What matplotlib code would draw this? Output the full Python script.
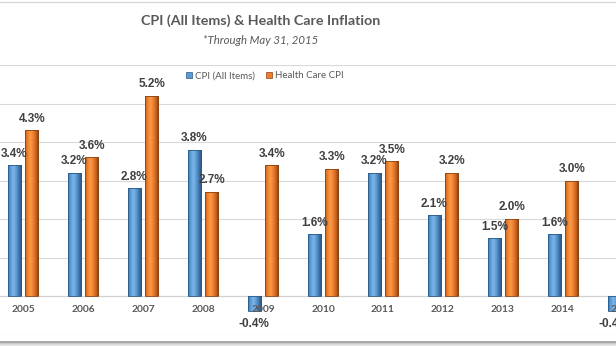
import matplotlib
matplotlib.use('Agg')
import matplotlib.pyplot as plt
import numpy as np
from matplotlib.colors import LinearSegmentedColormap
from matplotlib.lines import Line2D

# ---- data ----
years = ['2005', '2006', '2007', '2008', '2009', '2010', '2011', '2012', '2013', '2014', '2015']
cpi = [3.4, 3.2, 2.8, 3.8, -0.4, 1.6, 3.2, 2.1, 1.5, 1.6, -0.4]
health = [4.3, 3.6, 5.2, 2.7, 3.4, 3.3, 3.5, 3.2, 2.0, 3.0, 2.6]
series_names = ['CPI (All Items)', 'Health Care CPI']
title = 'CPI (All Items) & Health Care Inflation'
subtitle = '*Through May 31, 2015'

W, H = 616, 346
fig = plt.figure(figsize=(W / 100, H / 100), dpi=100)
fig.patch.set_facecolor('white')

# axes extends beyond the visible (cropped) figure
ax_l, ax_r = -61.6, 677.6
y_top, y_bot = 65.0, 334.5
ax = fig.add_axes([ax_l / W, (H - y_bot) / H, (ax_r - ax_l) / W, (y_bot - y_top) / H])
ax.set_facecolor('none')

x = np.arange(len(years))
bw = 0.22
off = 0.146

blue_cmap = LinearSegmentedColormap.from_list('b', ['#3B78B4', '#5E9FD8', '#7DB6E8', '#5C9AD2', '#3E74A8', '#24507C'])
orange_cmap = LinearSegmentedColormap.from_list('o', ['#C8621C', '#F0822F', '#FA9A48', '#EE7F2E', '#C66220', '#7E3C10'])
edge_b = '#2A5A88'
edge_o = '#8A4412'
grad = np.linspace(0, 1, 64).reshape(1, -1)

def draw_bars(xs, vals, cmap, edge):
    bars = ax.bar(xs, vals, width=bw, color='none', edgecolor=edge, linewidth=0.6, zorder=3)
    for rect in bars:
        x0 = rect.get_x(); w = rect.get_width()
        y0 = rect.get_y(); h = rect.get_height()
        ylo, yhi = min(y0, y0 + h), max(y0, y0 + h)
        im = ax.imshow(grad, extent=[x0, x0 + w, ylo, yhi], aspect='auto', cmap=cmap,
                       interpolation='bilinear', zorder=2.5, origin='lower')
        im.set_clip_path(rect)
    return bars

draw_bars(x - off, cpi, blue_cmap, edge_b)
draw_bars(x + off, health, orange_cmap, edge_o)

ax.set_xlim((ax_l - 23) / 60, (ax_r - 23) / 60)
ax.set_ylim(-1, 6)
ax.set_yticks(np.arange(-1, 7, 1))
ax.yaxis.grid(True, color='#D9D9D9', linewidth=0.8, zorder=0)
ax.set_axisbelow(True)
ax.set_xticks([])
ax.tick_params(axis='y', length=0, labelleft=False)
for s in ax.spines.values():
    s.set_visible(False)
ax.axhline(0, color='#D0D0D0', linewidth=0.8, zorder=1)

lab_font = dict(family=['Liberation Sans Narrow', 'Liberation Sans', 'DejaVu Sans'],
                fontweight='bold', fontsize=8.5, color='#404040')

def labels(xs, vals):
    for xi, v in zip(xs, vals):
        if v >= 0:
            ax.annotate(f'{v:.1f}%', (xi, v), xytext=(0, 4), textcoords='offset points',
                        ha='center', va='bottom', annotation_clip=False, **lab_font)
        else:
            ax.annotate(f'{v:.1f}%', (xi, v), xytext=(0, -5), textcoords='offset points',
                        ha='center', va='top', annotation_clip=False, **lab_font)

labels(x - off, cpi)
labels(x + off, health)

# category labels next to the zero line
for xi, yr in zip(x, years):
    ax.annotate(yr, (xi, 0), xytext=(0, -6.5), textcoords='offset points', ha='center', va='top',
                family=['Lato', 'DejaVu Sans'], fontweight='bold', fontsize=7.4, color='#595959',
                annotation_clip=False, zorder=4)

# title / subtitle
fig.text(261 / W, 1 - 21 / H, title, ha='center', va='center', family=['Lato', 'DejaVu Sans'],
         fontweight='bold', fontsize=10.3, color='#595959')
fig.text(261 / W, 1 - 41 / H, subtitle, ha='center', va='center', family=['Lato', 'DejaVu Sans'],
         fontstyle='italic', fontsize=8.2, color='#595959')

# legend
handles = [Line2D([], [], marker='s', linestyle='none', markersize=4.2, markerfacecolor='#5B9BD5',
                  markeredgecolor=edge_b, markeredgewidth=0.5),
           Line2D([], [], marker='s', linestyle='none', markersize=4.2, markerfacecolor='#ED7D31',
                  markeredgecolor=edge_o, markeredgewidth=0.5)]
leg = fig.legend(handles, series_names, loc='center', bbox_to_anchor=(265 / W, 1 - 76 / H),
                 ncol=2, frameon=False, prop=dict(family=['Lato', 'DejaVu Sans'], size=7.0),
                 handlelength=0.6, handletextpad=0.35, columnspacing=1.1, labelcolor='#595959')

# chart border lines (top) and bottom border with shadow
fig.add_artist(Line2D([0, 1], [1 - 1.8 / H, 1 - 1.8 / H], transform=fig.transFigure,
                      color='#D9D9D9', linewidth=1.0))
fig.add_artist(Line2D([0, 1], [1 - 342 / H, 1 - 342 / H], transform=fig.transFigure,
                      color='#9A9A9A', linewidth=1.2))
fig.add_artist(Line2D([0, 1], [1 - 343.6 / H, 1 - 343.6 / H], transform=fig.transFigure,
                      color='#BDBDBD', linewidth=1.2))
fig.add_artist(Line2D([0, 1], [1 - 345 / H, 1 - 345 / H], transform=fig.transFigure,
                      color='#E0E0E0', linewidth=1.2))

fig.savefig('out.png', dpi=100, facecolor='white')
